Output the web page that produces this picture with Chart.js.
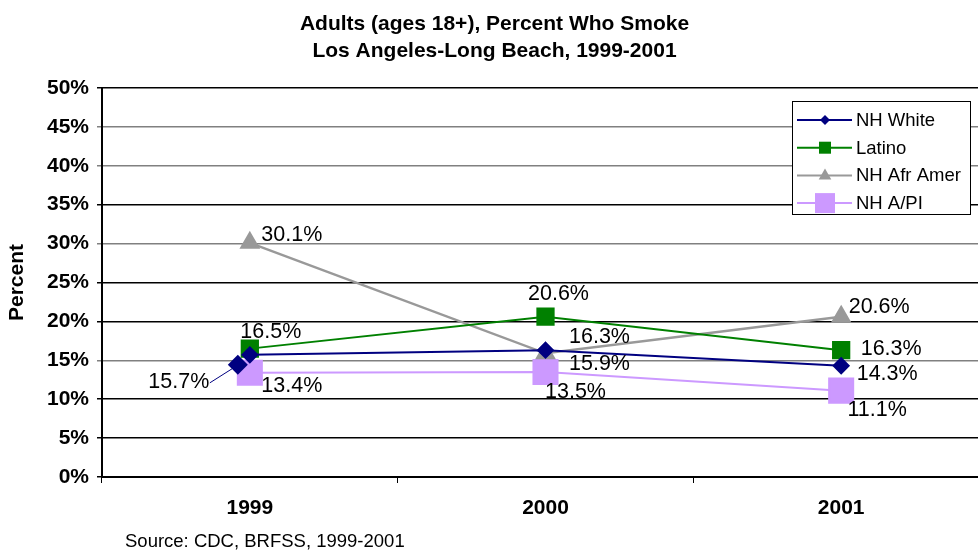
<!DOCTYPE html>
<html>
<head>
<meta charset="utf-8">
<script src="https://cdn.jsdelivr.net/npm/chart.js@4.4.1/dist/chart.umd.min.js"></script>
<style>
  body { margin: 0; background: #fff; overflow: hidden; }
  #wrap { position: relative; width: 978px; height: 553px; overflow: hidden; }
  #smokeChart { position: absolute; left: 0; top: 0; }
  #source { position: absolute; left: 125px; top: 530px; font: 18.5px Arial, "Liberation Sans", sans-serif; line-height: 21px; color: #000; }
</style>
</head>
<body>
<div id="wrap">
  <canvas id="smokeChart" width="996" height="553"></canvas>
  <div id="source">Source: CDC, BRFSS, 1999-2001</div>
</div>
<script>
// Smoking rates by group, percent
const years = ['1999', '2000', '2001'];
const nhWhite = [15.7, 16.3, 14.3];
const latino = [16.5, 20.6, 16.3];
const nhAfrAmer = [30.1, 15.9, 20.6];
const nhApi = [13.4, 13.5, 11.1];
const seriesNames = ['NH White', 'Latino', 'NH Afr Amer', 'NH A/PI'];

const FONT = 'Arial, "Liberation Sans", sans-serif';

// where each value label sits relative to its point (dx, dy)
const labelOffsets = [
    [[-71, 27], [54, -13], [46, 8]],
    [[21, -17], [13, -23], [50, -1]],
    [[42, -8], [54, 11], [38, -10]],
    [[42, 13], [30, 20], [36, 19]]
];

// gridline shades by tick value
const gridShades = { 50: '#000', 45: '#808080', 40: '#808080', 35: '#000', 30: '#808080',
                     25: '#000', 20: '#000', 15: '#808080', 10: '#000', 5: '#000', 0: '#000' };

function fmt(v) { return v.toFixed(1) + '%'; }

function drawMarker(ctx, style, x, y, size, color) {
    ctx.save();
    ctx.fillStyle = color;
    ctx.beginPath();
    if (style === 'rectRot') {
        ctx.moveTo(x, y - size); ctx.lineTo(x + size, y); ctx.lineTo(x, y + size); ctx.lineTo(x - size, y);
    } else if (style === 'triangle') {
        ctx.moveTo(x, y - size); ctx.lineTo(x + size * 0.9, y + size * 0.6); ctx.lineTo(x - size * 0.9, y + size * 0.6);
    } else {
        ctx.rect(x - size, y - size, size * 2, size * 2);
    }
    ctx.closePath();
    ctx.fill();
    ctx.restore();
}

// value labels next to the points
const valueLabels = {
    id: 'valueLabels',
    afterDatasetsDraw(chart) {
        const ctx = chart.ctx;
        ctx.save();
        ctx.font = '21.5px ' + FONT;
        ctx.fillStyle = '#000';
        ctx.textAlign = 'center';
        ctx.textBaseline = 'middle';
        chart.data.datasets.forEach((ds, i) => {
            const meta = chart.getDatasetMeta(i);
            meta.data.forEach((pt, j) => {
                const off = labelOffsets[i][j];
                const lx = pt.x + off[0], ly = pt.y + off[1];
                if (ds.leader && ds.leader[j]) {
                    ctx.save();
                    ctx.strokeStyle = ds.borderColor;
                    ctx.lineWidth = 1;
                    ctx.beginPath();
                    ctx.moveTo(lx + 31, ly + 1);
                    ctx.lineTo(pt.x - 10, pt.y + 9);
                    ctx.stroke();
                    ctx.restore();
                    drawMarker(ctx, 'rectRot', pt.x - 12, pt.y + 10, 10, ds.borderColor);
                }
                ctx.fillText(fmt(ds.data[j]), lx, ly);
            });
        });
        ctx.restore();
    }
};

// boxed legend inside the plot, top right
const boxLegend = {
    id: 'boxLegend',
    afterDraw(chart) {
        const ctx = chart.ctx;
        const bx = 792, by = 101, bw = 178, bh = 113;
        const sizes = [5, 6, 7, 10];
        ctx.save();
        ctx.fillStyle = '#fff';
        ctx.fillRect(bx, by, bw, bh);
        ctx.strokeStyle = '#000';
        ctx.lineWidth = 1;
        ctx.strokeRect(bx + 0.5, by + 0.5, bw, bh);
        ctx.font = '18.5px ' + FONT;
        ctx.textBaseline = 'middle';
        chart.data.datasets.forEach((ds, i) => {
            const y = by + 19 + i * 27.7;
            ctx.strokeStyle = ds.borderColor;
            ctx.lineWidth = 2;
            ctx.beginPath();
            ctx.moveTo(bx + 5, y);
            ctx.lineTo(bx + 60, y);
            ctx.stroke();
            drawMarker(ctx, ds.pointStyle, bx + 33, y, sizes[i], ds.pointBackgroundColor);
            ctx.fillStyle = '#000';
            ctx.fillText(ds.label, bx + 64, y + 1);
        });
        ctx.restore();
    }
};

const ctx = document.getElementById('smokeChart').getContext('2d');
new Chart(ctx, {
    type: 'line',
    data: {
        labels: years,
        datasets: [
            { label: seriesNames[0], data: nhWhite, borderColor: '#000080', pointBackgroundColor: '#000080',
              pointBorderColor: '#000080', pointStyle: 'rectRot', pointRadius: 7.5, borderWidth: 2, leader: [true, false, false] },
            { label: seriesNames[1], data: latino, borderColor: '#008000', pointBackgroundColor: '#008000',
              pointBorderColor: '#008000', pointStyle: 'rect', pointRadius: 11.5, borderWidth: 2 },
            { label: seriesNames[2], data: nhAfrAmer, borderColor: '#999999', pointBackgroundColor: '#999999',
              pointBorderColor: '#999999', pointStyle: 'triangle', pointRadius: 9.5, borderWidth: 2.5 },
            { label: seriesNames[3], data: nhApi, borderColor: '#CC99FF', pointBackgroundColor: '#CC99FF',
              pointBorderColor: '#CC99FF', pointStyle: 'rect', pointRadius: 17, borderWidth: 2 }
        ]
    },
    options: {
        responsive: false,
        animation: false,
        devicePixelRatio: 1,
        layout: { autoPadding: false, padding: { left: 0, right: 7, top: 0, bottom: 0 } },
        elements: { line: { tension: 0 }, point: { borderWidth: 0 } },
        plugins: {
            legend: { display: false },
            tooltip: { enabled: false },
            title: {
                display: true,
                text: ['Adults (ages 18+), Percent Who Smoke', 'Los Angeles-Long Beach, 1999-2001'],
                color: '#000',
                font: { family: FONT, size: 21, weight: 'bold', lineHeight: 1.2857 },
                padding: { top: 10.5, bottom: 23.5 }
            }
        },
        scales: {
            x: {
                offset: true,
                grid: { offset: true, drawOnChartArea: false, drawTicks: true, tickLength: 6, color: '#000' },
                border: { color: '#000', width: 2 },
                ticks: { color: '#000', padding: 13, font: { family: FONT, size: 21, weight: 'bold' } },
                afterFit(scale) {
                    scale.height = 76;
                    scale.paddingLeft = 0;
                    scale.paddingRight = 0;
                }
            },
            y: {
                min: 0,
                max: 50,
                ticks: {
                    stepSize: 5,
                    color: '#000',
                    padding: 8,
                    font: { family: FONT, size: 21, weight: 'bold' },
                    callback: v => v + '%'
                },
                grid: {
                    tickLength: 5,
                    lineWidth: 1.5,
                    color: c => gridShades[c.tick ? c.tick.value : 0] || '#000'
                },
                border: { color: '#000', width: 2 },
                title: {
                    display: true,
                    text: 'Percent',
                    color: '#000',
                    font: { family: FONT, size: 21, weight: 'bold' },
                    padding: { top: 4.5, bottom: 0 }
                },
                afterFit(scale) { scale.width = 102; }
            }
        }
    },
    plugins: [valueLabels, boxLegend]
});
</script>
</body>
</html>
